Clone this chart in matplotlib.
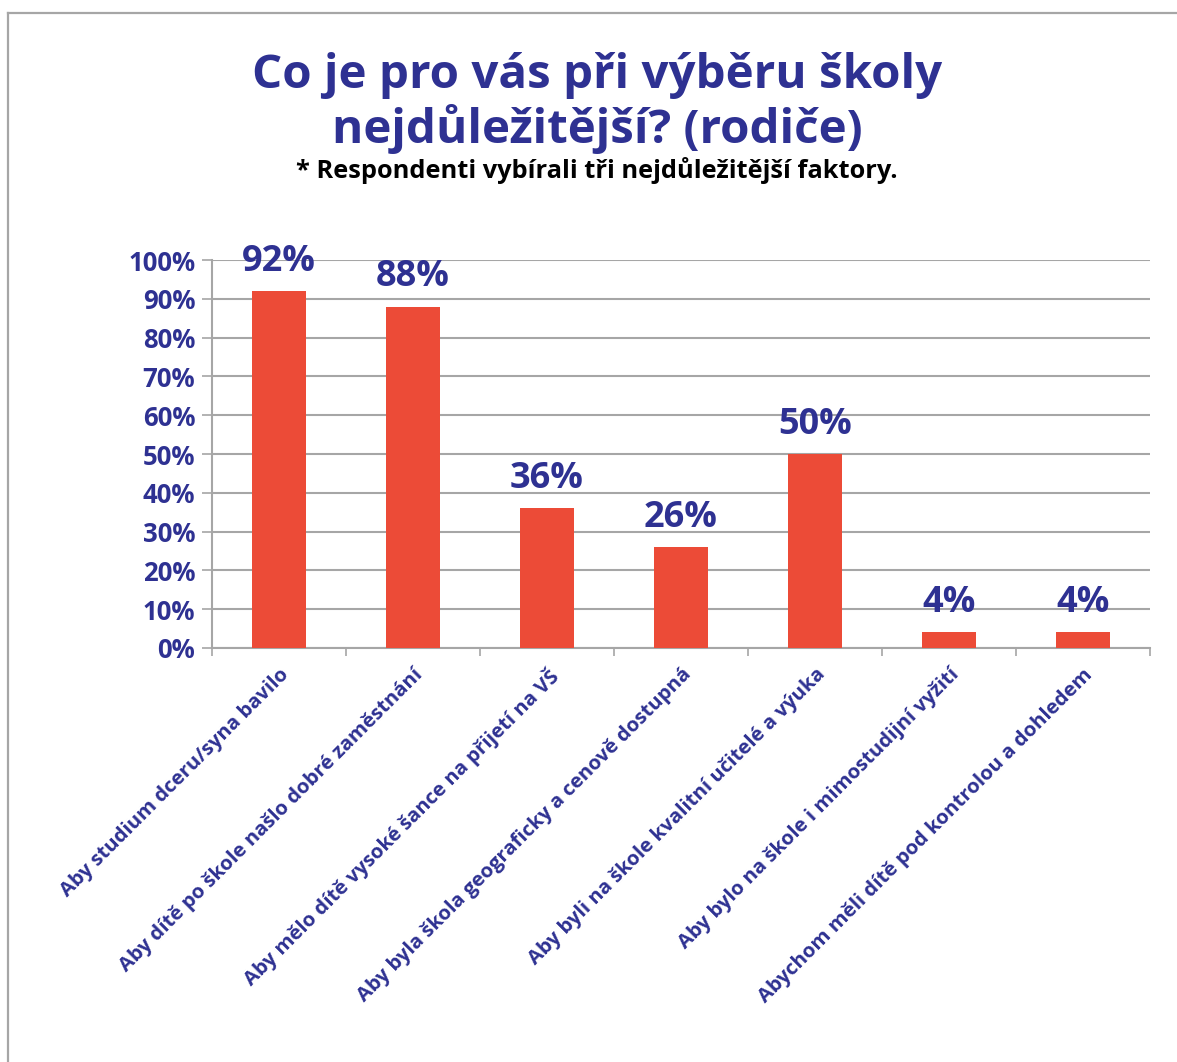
import matplotlib
matplotlib.use("Agg")
import matplotlib.pyplot as plt
from matplotlib.lines import Line2D
import numpy as np

categories = [
    "Aby studium dceru/syna bavilo",
    "Aby dítě po škole našlo dobré zaměstnání",
    "Aby mělo dítě vysoké šance na přijetí na VŠ",
    "Aby byla škola geograficky a cenově dostupná",
    "Aby byli na škole kvalitní učitelé a výuka",
    "Aby bylo na škole i mimostudijní vyžití",
    "Abychom měli dítě pod kontrolou a dohledem",
]
values = [0.92, 0.88, 0.36, 0.26, 0.50, 0.04, 0.04]
yticks = [0, 0.1, 0.2, 0.3, 0.4, 0.5, 0.6, 0.7, 0.8, 0.9, 1.0]
ytick_labels = ["0%", "10%", "20%", "30%", "40%", "50%", "60%", "70%", "80%", "90%", "100%"]
title_lines = ["Co je pro vás při výběru školy", "nejdůležitější? (rodiče)"]
subtitle = "* Respondenti vybírali tři nejdůležitější faktory."

plt.rcParams['font.family'] = ['Open Sans', 'DejaVu Sans']
navy = "#2E3192"
bar_color = "#EC4B37"
grid_color = "#A6A6A6"

W, H = 1177, 1062
fig = plt.figure(figsize=(W / 100, H / 100), dpi=100)

# Outer border (top and left)
fig.add_artist(Line2D([8 / W, 1.0], [1 - 13 / H, 1 - 13 / H], color=grid_color, lw=1.6,
                      transform=fig.transFigure))
fig.add_artist(Line2D([8 / W, 8 / W], [1 - 13 / H, 0], color=grid_color, lw=1.6,
                      transform=fig.transFigure))

ax = fig.add_axes([212 / W, 1 - 648 / H, (1150 - 212) / W, (648 - 260) / H])
x = np.arange(len(categories))
ax.bar(x, values, width=0.4, color=bar_color, zorder=3)
ax.set_xlim(-0.5, len(categories) - 0.5)
ax.set_ylim(0, 1.0)

ax.set_yticks(yticks)
ax.set_yticklabels(ytick_labels, fontsize=18.5, fontweight='bold', color=navy)
ax.tick_params(axis='y', length=7, width=1.2, color=grid_color, pad=5)
ax.yaxis.grid(True, color=grid_color, lw=1.5, zorder=0)

ax.set_xticks(x)
ax.set_xticklabels(categories, rotation=45, ha='right', va='top', rotation_mode='anchor',
                   fontsize=14.7, fontweight='bold', color=navy)
ax.tick_params(axis='x', which='major', length=0, pad=12)
ax.set_xticks(np.arange(-0.5, len(categories), 1.0), minor=True)
ax.tick_params(axis='x', which='minor', length=6, width=1.2, color=grid_color)

for s in ['top', 'right']:
    ax.spines[s].set_visible(False)
for s in ['left', 'bottom']:
    ax.spines[s].set_color(grid_color)
    ax.spines[s].set_linewidth(1.5)

for xi, v in zip(x, values):
    ax.annotate(f"{round(v * 100)}%", (xi, v), xytext=(0, 8), textcoords='offset points',
                ha='center', va='bottom', fontsize=26, fontweight='bold', color=navy,
                clip_on=False, zorder=4)

fig.text(597 / W, 1 - 88 / H, title_lines[0], ha='center', va='baseline', fontsize=34.2,
         fontweight='bold', color=navy)
fig.text(597 / W, 1 - 143 / H, title_lines[1], ha='center', va='baseline', fontsize=34.2,
         fontweight='bold', color=navy)
fig.text(597 / W, 1 - 178 / H, subtitle, ha='center', va='baseline', fontsize=18.3,
         fontweight='bold', color='black')

fig.savefig("out.png", dpi=100)
